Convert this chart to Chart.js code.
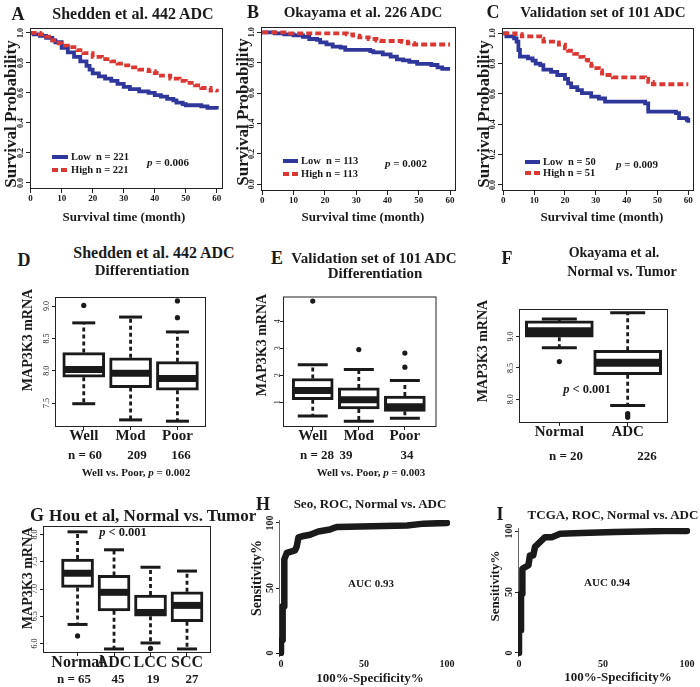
<!DOCTYPE html>
<html>
<head>
<meta charset="utf-8">
<title>MAP3K3 figure</title>
<script src="https://cdn.jsdelivr.net/npm/chart.js@4.4.1/dist/chart.umd.min.js"></script>
<style>
  body { margin: 0; background: #fff; }
  #fig { position: relative; width: 700px; height: 687px; overflow: hidden; }
  #fig canvas { position: absolute; }
  .t { position: absolute; white-space: pre; font-family: "Liberation Serif", "Times New Roman", serif; font-weight: bold; color: #1a1a1a; line-height: 1; transform: translate(-50%, -50%); }
  .t.v { transform: translate(-50%, -50%) rotate(-90deg); }
  .t.l { transform: translate(0, -50%); }
  .key { position: absolute; height: 4px; }
</style>
</head>
<body>
<div id="fig"></div>
<script>
// ---- survival panels A-C (months / survival probability) ----
const survMonths = [0, 10, 20, 30, 40, 50, 60];
const survProbTicks = [0, 0.2, 0.4, 0.6, 0.8, 1.0];

const sheddenLowT = [0, 1, 3, 5, 7, 8, 10, 12, 14, 16, 18, 19, 20, 22, 24, 26, 28, 30, 32, 35, 38, 40, 42, 44, 46, 47, 49, 50, 55, 57, 60];
const sheddenLowS = [1.0, 0.99, 0.98, 0.967, 0.95, 0.938, 0.9, 0.87, 0.84, 0.81, 0.78, 0.755, 0.73, 0.71, 0.695, 0.68, 0.66, 0.64, 0.625, 0.61, 0.6, 0.585, 0.575, 0.56, 0.55, 0.535, 0.525, 0.518, 0.51, 0.5, 0.49];
const sheddenHighT = [0, 3, 5, 7, 9, 10, 12, 15, 17, 20, 23, 26, 28, 30, 33, 35, 38, 40, 42, 45, 48, 50, 53, 55, 58, 60];
const sheddenHighS = [1.0, 0.99, 0.975, 0.95, 0.93, 0.916, 0.905, 0.885, 0.865, 0.84, 0.825, 0.81, 0.795, 0.784, 0.77, 0.756, 0.745, 0.733, 0.715, 0.695, 0.68, 0.667, 0.65, 0.633, 0.615, 0.604];

const okayamaLowT = [0, 4, 7, 10, 13, 15, 17.5, 18.5, 20.5, 22.5, 25, 26.5, 34.5, 35.5, 38.5, 41, 43, 45, 47, 49.5, 54, 56, 57.5, 60];
const okayamaLowS = [1.0, 0.993, 0.987, 0.98, 0.97, 0.956, 0.95, 0.934, 0.921, 0.906, 0.9, 0.884, 0.876, 0.868, 0.855, 0.84, 0.822, 0.816, 0.805, 0.792, 0.785, 0.77, 0.759, 0.759];
const okayamaHighT = [0, 8, 27, 29, 31, 34, 36.5, 38, 44.5, 46.5, 48.5, 60];
const okayamaHighS = [1.0, 0.993, 0.987, 0.978, 0.967, 0.956, 0.946, 0.943, 0.938, 0.928, 0.92, 0.92];

const validLowT = [0, 1, 3.5, 4.3, 4.9, 5.4, 8, 9.5, 10.5, 12, 13, 15.5, 17.5, 20, 21, 22, 24, 25.5, 28.5, 31, 33, 46, 47, 56, 57, 59.5, 60];
const validLowS = [1.0, 0.98, 0.967, 0.945, 0.89, 0.846, 0.835, 0.82, 0.8, 0.79, 0.76, 0.745, 0.725, 0.7, 0.67, 0.645, 0.625, 0.605, 0.582, 0.57, 0.55, 0.538, 0.484, 0.473, 0.44, 0.43, 0.41];
const validHighT = [0, 4, 6, 12, 13, 17, 18, 20, 21, 23, 25, 26, 27.5, 28.5, 29.5, 31, 32, 33, 35.5, 46, 47, 48.5, 60];
const validHighS = [1.0, 0.995, 0.98, 0.965, 0.945, 0.94, 0.925, 0.9, 0.885, 0.865, 0.845, 0.825, 0.8, 0.785, 0.77, 0.755, 0.735, 0.725, 0.71, 0.7, 0.68, 0.664, 0.664];

// ---- box plots D-G (MAP3K3 mRNA) ----
const diffCats = ["Well", "Mod", "Poor"];

const dLow = [7.49, 7.24, 7.22];
const dQ1 = [7.90, 7.74, 7.70];
const dMed = [8.02, 7.96, 7.88];
const dQ3 = [8.28, 8.20, 8.14];
const dHigh = [8.74, 8.83, 8.60];
const dOut = [[9.01], [], [8.82, 9.08]];
const dN = ["n = 60", "209", "166"];
const dTicks = [7.5, 8.0, 8.5, 9.0];

const eLow = [0.49, 0.29, 0.40];
const eQ1 = [1.09, 0.75, 0.66];
const eMed = [1.43, 1.09, 0.83];
const eQ3 = [1.88, 1.53, 1.23];
const eHigh = [2.39, 2.21, 1.80];
const eOut = [[4.75], [2.95], [2.30, 2.82]];
const eN = ["n = 28", "39", "34"];
const eTicks = [1, 2, 3, 4];

const fCats = ["Normal", "ADC"];
const fLow = [8.82, 7.90];
const fQ1 = [8.99, 8.39];
const fMed = [9.085, 8.58];
const fQ3 = [9.25, 8.78];
const fHigh = [9.28, 9.38];
const fOut = [[8.60], [7.77, 7.74, 7.71]];
const fN = ["n = 20", "226"];
const fTicks = [8.0, 8.5, 9.0];

const gCats = ["Normal", "ADC", "LCC", "SCC"];
const gLow = [6.35, 5.90, 6.01, 5.90];
const gQ1 = [7.03, 6.60, 6.50, 6.40];
const gMed = [7.29, 6.94, 6.57, 6.70];
const gQ3 = [7.55, 7.25, 6.89, 6.95];
const gHigh = [8.05, 7.72, 7.40, 7.33];
const gOut = [[6.14], [], [5.91], []];
const gN = ["n = 65", "45", "19", "27"];
const gTicks = [6.0, 6.5, 7.0, 7.5, 8.0];

// ---- ROC panels H-I (100%-specificity vs sensitivity) ----
const rocTicks = [0, 50, 100];
const seoFpr = [0, 0, 1, 1, 2, 2, 3.5, 8.5, 9.5, 10.5, 13.5, 17.5, 22.5, 29.5, 32.5, 34, 76, 86, 100];
const seoTpr = [0, 10, 10, 36, 36, 72, 77, 79, 82, 89, 90, 91, 93.5, 95, 96.5, 97, 98, 99.5, 100];
const tcgaFpr = [0, 0, 1.2, 1.2, 2, 2, 5.6, 6.5, 8.5, 9.5, 13.5, 15.5, 19.5, 24.5, 37, 57, 87, 100];
const tcgaTpr = [0, 18.6, 18.6, 48.6, 48.6, 69, 72, 80, 80, 87, 92.3, 95, 95, 97.8, 98.4, 99.2, 100, 100];

const BLUE = "#30379a";
const RED = "#dc3833";
const INK = "#1a1a1a";
const SERIF = "'Liberation Serif', 'Times New Roman', serif";
const PAD = 14;

Chart.defaults.font.family = SERIF;
Chart.defaults.color = INK;

const fig = document.getElementById("fig");

function label(html, x, y, size, cls) {
    const d = document.createElement("div");
    d.className = "t" + (cls ? " " + cls : "");
    d.style.left = x + "px";
    d.style.top = y + "px";
    d.style.fontSize = size + "px";
    d.innerHTML = html;
    fig.appendChild(d);
}

function key(x1, x2, y, color, dashed) {
    const d = document.createElement("div");
    d.className = "key";
    d.style.left = x1 + "px";
    d.style.top = (y - 2) + "px";
    d.style.width = (x2 - x1) + "px";
    d.style.background = dashed
        ? `repeating-linear-gradient(90deg, ${color} 0 6px, transparent 6px 9px)`
        : color;
    fig.appendChild(d);
}

// canvas placed so that the chart area lands on the given box
function makeCanvas(area, yW, xH) {
    const c = document.createElement("canvas");
    const w = area.r - area.l + yW + 2 * PAD;
    const h = area.b - area.t + xH + 2 * PAD;
    c.width = w;
    c.height = h;
    c.style.left = (area.l - yW - PAD) + "px";
    c.style.top = (area.t - PAD) + "px";
    c.style.width = w + "px";
    c.style.height = h + "px";
    fig.appendChild(c);
    return c;
}

const frame = {
    id: "frame",
    afterDatasetsDraw(chart) {
        const a = chart.chartArea, ctx = chart.ctx;
        ctx.save();
        ctx.strokeStyle = "#222";
        ctx.lineWidth = 1;
        ctx.strokeRect(a.left + 0.5, a.top + 0.5, a.right - a.left - 1, a.bottom - a.top - 1);
        ctx.restore();
    }
};

function xAxis(range, ticks, fmt, size, weight, tl, pad, xH) {
    return {
        type: "linear", min: range[0], max: range[1], offset: false,
        afterFit: s => { s.height = xH; },
        afterBuildTicks: s => { s.ticks = ticks.map(v => ({ value: v })); },
        ticks: { callback: v => fmt(v), font: { size, weight }, color: INK, padding: pad, minRotation: 0, maxRotation: 0, autoSkip: false },
        grid: { display: tl > 0, drawOnChartArea: false, drawTicks: true, tickLength: tl, color: "#222", offset: false },
        border: { display: false }
    };
}

function yAxis(range, ticks, fmt, size, weight, tl, pad, yW, border) {
    return {
        type: "linear", min: range[0], max: range[1],
        afterFit: s => { s.width = yW; },
        afterBuildTicks: s => { s.ticks = ticks.map(v => ({ value: v })); },
        ticks: { callback: v => fmt(v), font: { size, weight }, color: INK, padding: pad, minRotation: 90, maxRotation: 90, crossAlign: "center" },
        grid: { drawOnChartArea: false, drawTicks: true, tickLength: tl, color: "#222" },
        border: { display: !!border, color: "#666", width: 1 }
    };
}

function baseOptions(scales) {
    return {
        responsive: false, animation: false, events: [],
        layout: { padding: PAD },
        plugins: { legend: { display: false }, tooltip: { enabled: false } },
        scales
    };
}

const pts = (xs, ys) => xs.map((x, i) => ({ x, y: ys[i] }));

function survChart(area, xr, yr, lowT, lowS, highT, highS) {
    const c = makeCanvas(area, 22, 20);
    new Chart(c, {
        type: "line",
        data: {
            datasets: [
                { data: pts(highT, highS), borderColor: RED, borderWidth: 3.8, borderDash: [6, 3], stepped: "before", pointRadius: 0, fill: false },
                { data: pts(lowT, lowS), borderColor: BLUE, borderWidth: 3.8, stepped: "before", pointRadius: 0, fill: false }
            ]
        },
        options: baseOptions({
            x: xAxis(xr, survMonths, v => String(v), 9, "bold", 4, 0, 20),
            y: yAxis(yr, survProbTicks, v => v.toFixed(1), 8, "bold", 4, 0.5, 22)
        }),
        plugins: [frame]
    });
}

function boxChart(area, xr, yr, cats, lo, q1, med, q3, hi, outs, yTicks, sz) {
    const c = makeCanvas(area, 20, 22);
    const idx = cats.map((_, i) => i + 1);
    const whiskers = [];
    idx.forEach((x, i) => {
        whiskers.push({ x, y: q3[i] }, { x, y: hi[i] }, { x, y: null });
        whiskers.push({ x, y: q1[i] }, { x, y: lo[i] }, { x, y: null });
    });
    const caps = idx.flatMap((x, i) => [{ x, y: lo[i] }, { x, y: hi[i] }]);
    const outliers = outs.flatMap((arr, i) => arr.map(v => ({ x: i + 1, y: v })));
    new Chart(c, {
        type: "bar",
        data: {
            datasets: [
                { type: "line", data: outliers, showLine: false, pointStyle: "circle", pointRadius: 2.6, pointBackgroundColor: INK, pointBorderWidth: 0, order: 0 },
                { type: "line", data: pts(idx, med), showLine: false, pointStyle: "line", pointRadius: sz.box / 2 - 2, pointBorderWidth: sz.med, pointBorderColor: INK, order: 1 },
                { type: "bar", data: idx.map((x, i) => ({ x, y: [q1[i], q3[i]] })), backgroundColor: "#fff", borderColor: INK, borderWidth: 3, borderSkipped: false, barThickness: sz.box, order: 2 },
                { type: "line", data: caps, showLine: false, pointStyle: "line", pointRadius: sz.cap / 2, pointBorderWidth: 3, pointBorderColor: INK, order: 3 },
                { type: "line", data: whiskers, borderColor: INK, borderWidth: 2.8, borderDash: [4, 3], pointRadius: 0, spanGaps: false, order: 4 }
            ]
        },
        options: baseOptions({
            x: xAxis(xr, idx, v => cats[v - 1], sz.font, "bold", 3, -3, 22),
            y: yAxis(yr, yTicks, v => v.toFixed(sz.dec), 8, "normal", 3, 0, 20)
        }),
        plugins: [frame]
    });
}

function rocChart(area, xr, yr, fpr, tpr) {
    const c = makeCanvas(area, 20, 20);
    new Chart(c, {
        type: "line",
        data: {
            datasets: [{ data: pts(fpr, tpr), borderColor: INK, borderWidth: 6.5, borderJoinStyle: "round", borderCapStyle: "round", pointRadius: 0, fill: false }]
        },
        options: baseOptions({
            x: xAxis(xr, rocTicks, v => String(v), 10, "bold", 0, 2, 20),
            y: yAxis(yr, rocTicks, v => String(v), 10, "bold", 3, -1.5, 20, true)
        })
    });
}

// A-C
survChart({ l: 30, r: 223, t: 28, b: 189 }, [-0.2, 62], [-0.04, 1.033], sheddenLowT, sheddenLowS, sheddenHighT, sheddenHighS);
survChart({ l: 261, r: 456, t: 27, b: 191 }, [-0.42, 61.9], [-0.044, 1.035], okayamaLowT, okayamaLowS, okayamaHighT, okayamaHighS);
survChart({ l: 502, r: 694, t: 28, b: 191 }, [-0.42, 61.85], [-0.04, 1.035], validLowT, validLowS, validHighT, validHighS);

// D-G
boxChart({ l: 55, r: 218, t: 285, b: 427 }, [0.386, 3.61], [7.13, 9.14], diffCats, dLow, dQ1, dMed, dQ3, dHigh, dOut, dTicks, { box: 42, cap: 23, med: 7, font: 15, dec: 1 });
boxChart({ l: 283, r: 448, t: 285, b: 427 }, [0.354, 3.687], [0.08, 4.92], diffCats, eLow, eQ1, eMed, eQ3, eHigh, eOut, eTicks, { box: 41, cap: 30, med: 7, font: 15, dec: 0 });
boxChart({ l: 513, r: 694, t: 283, b: 427 }, [0.41, 2.59], [7.62, 9.44], fCats, fLow, fQ1, fMed, fQ3, fHigh, fOut, fTicks, { box: 68, cap: 35, med: 8, font: 15, dec: 1 });
boxChart({ l: 43, r: 218, t: 519, b: 653 }, [0.053, 4.658], [5.826, 8.157], gCats, gLow, gQ1, gMed, gQ3, gHigh, gOut, gTicks, { box: 32, cap: 20, med: 7, font: 16, dec: 1 });

// H-I
rocChart({ l: 279, r: 450, t: 520, b: 656 }, [-1.2, 101.8], [-2.3, 102.3], seoFpr, seoTpr);
rocChart({ l: 518, r: 690, t: 528, b: 656 }, [-0.6, 101.8], [-2.5, 102.5], tcgaFpr, tcgaTpr);

// panel letters
[["A", 18, 14], ["B", 253, 12], ["C", 493, 12], ["D", 24, 260], ["E", 277, 258],
 ["F", 507, 258], ["G", 37, 515], ["H", 263, 504], ["I", 500, 514]].forEach(([s, x, y]) => label(s, x, y, 18));

// titles
label("Shedden et al. 442 ADC", 133, 14, 16);
label("Okayama et al. 226 ADC", 363, 12, 15);
label("Validation set of 101 ADC", 603, 12, 15);
label("Shedden et al. 442 ADC", 154, 253, 16);
label("Differentiation", 142, 270, 15);
label("Validation set of 101 ADC", 374, 258, 15);
label("Differentiation", 375, 273, 15);
label("Okayama et al.", 614, 253, 14);
label("Normal vs. Tumor", 622, 272, 14);
label("Hou et al, Normal vs. Tumor", 49, 515, 17, "l");
label("Seo, ROC, Normal vs. ADC", 370, 503, 13);
label("TCGA, ROC, Normal vs. ADC", 613, 514, 13);

// axis titles
[[10, 114], [242, 112], [483, 114]].forEach(([x, y]) => label("Survival Probability", x, y, 17, "v"));
[[124, 216], [363, 216], [602, 216]].forEach(([x, y]) => label("Survival time (month)", x, y, 13));
[[28, 340], [262, 345], [483, 351], [28, 578]].forEach(([x, y]) => label("MAP3K3 mRNA", x, y, 14, "v"));
label("Sensitivity%", 257, 578, 14, "v");
label("Sensitivity%", 494, 586, 13, "v");
label("100%-Specificity%", 370, 677, 13);
label("100%-Specificity%", 618, 676, 13);

// legends and p values
key(52, 68, 157, BLUE); key(52, 68, 170, RED, true);
label("Low  n = 221", 71, 157, 10.5, "l"); label("High n = 221", 71, 170, 10.5, "l");
key(283, 298, 161, BLUE); key(283, 298, 174, RED, true);
label("Low  n = 113", 301, 161, 10.5, "l"); label("High n = 113", 301, 174, 10.5, "l");
key(525, 540, 162, BLUE); key(525, 540, 173, RED, true);
label("Low  n = 50", 543, 162, 10.5, "l"); label("High n = 51", 543, 173, 10.5, "l");
label("<i>p</i> = 0.006", 168, 162, 11);
label("<i>p</i> = 0.002", 406, 163, 11);
label("<i>p</i> = 0.009", 637, 164, 11);
label("<i>p</i> &lt; 0.001", 587, 389, 12.5);
label("<i>p</i> &lt; 0.001", 123, 532, 12.5);
label("AUC 0.93", 371, 583, 11);
label("AUC 0.94", 607, 582, 11);

// group sizes under the box plots
[85, 137, 181].forEach((x, i) => label(dN[i], x, 454, 13));
[317, 346, 407].forEach((x, i) => label(eN[i], x, 454, 13));
[566, 647].forEach((x, i) => label(fN[i], x, 455, 13));
[74, 118, 153, 192].forEach((x, i) => label(gN[i], x, 678, 13));
label("Well vs. Poor, <i>p</i> = 0.002", 136, 472, 11);
label("Well vs. Poor, <i>p</i> = 0.003", 371, 472, 11);
</script>
</body>
</html>
